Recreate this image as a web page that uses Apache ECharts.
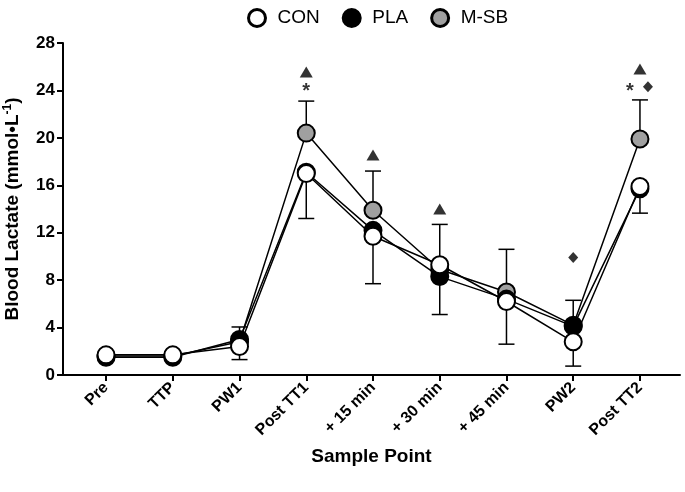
<!DOCTYPE html>
<html><head><meta charset="utf-8">
<script src="https://cdn.jsdelivr.net/npm/echarts@6/dist/echarts.min.js"></script>
<style>html,body{margin:0;padding:0;background:#fff}#c{width:685px;height:492px}</style>
</head><body><div id="c"></div>
<script>
const categories = ['Pre','TTP','PW1','Post TT1','+ 15 min','+ 30 min','+ 45 min','PW2','Post TT2'];
const con = [1.7, 1.7, 2.4, 17.0, 11.7, 9.3, 6.2, 2.8, 15.9];
const pla = [1.5, 1.5, 3.0, 17.1, 12.2, 8.3, 6.4, 4.1, 15.7];
const msb = [1.6, 1.6, 2.8, 20.4, 13.9, 8.9, 7.0, 4.2, 19.9];
const conSDdown = [0.3, 0.3, 1.1, 3.8, 4.0, 4.2, 3.6, 2.05, 2.25];
const msbSDup = [0.3, 0.3, 1.25, 2.7, 3.3, 3.8, 3.6, 2.1, 3.3];
const triangles = [[3, 25.55], [4, 18.55], [5, 14.0], [8, 25.8]];
const asterisks = [[3, 24.3, 0], [8, 24.3, -10]];
const diamonds = [[7, 9.9, 0], [8, 24.3, 8]];
const yTicks = [0, 4, 8, 12, 16, 20, 24, 28];

const font = 'Liberation Sans, Arial, sans-serif';
const chart = echarts.init(document.getElementById('c'));

function errSeries(name, means, sds, dir) {
  return {
    type: 'custom', name: name + ' SD', z: 1, silent: true,
    data: means.map((m, i) => [i, m, sds[i]]),
    renderItem: function (params, api) {
      const x = api.value(0), m = api.value(1), s = api.value(2);
      const p0 = api.coord([x, m]);
      const p1 = api.coord([x, m + dir * s]);
      const hw = 8;
      const st = { stroke: '#000', lineWidth: 1.5 };
      return { type: 'group', children: [
        { type: 'line', shape: { x1: p0[0], y1: p0[1], x2: p1[0], y2: p1[1] }, style: st },
        { type: 'line', shape: { x1: p1[0] - hw, y1: p1[1], x2: p1[0] + hw, y2: p1[1] }, style: st }
      ]};
    }
  };
}
function lineSeries(name, data, fill, z) {
  return {
    type: 'line', name: name, z: z,
    data: data.map((v, i) => [i, v]),
    symbol: 'circle', symbolSize: 17,
    lineStyle: { color: '#000', width: 1.5 },
    itemStyle: { color: fill, borderColor: '#000', borderWidth: 2 },
    emphasis: { disabled: true }
  };
}

chart.setOption({
  animation: false,
  legend: {
    top: 3, left: 242, itemGap: 22, itemWidth: 17, itemHeight: 17,
    icon: 'circle',
    textStyle: { fontFamily: font, fontSize: 19, color: '#000', padding: [0, 0, 0, 7] },
    data: [
      { name: 'CON', itemStyle: { color: '#fff', borderColor: '#000', borderWidth: 3 } },
      { name: 'PLA', itemStyle: { color: '#000', borderColor: '#000', borderWidth: 3 } },
      { name: 'M-SB', itemStyle: { color: '#a0a0a0', borderColor: '#000', borderWidth: 3 } }
    ]
  },
  grid: { left: 63, right: 5, top: 43, bottom: 117, containLabel: false, outerBoundsMode: 'none' },
  xAxis: {
    type: 'value', min: -0.645, max: 8.6,
    name: 'Sample Point', nameLocation: 'middle', nameGap: 72,
    nameTextStyle: { fontFamily: font, fontSize: 19, fontWeight: 'bold', color: '#000' },
    splitLine: { show: false },
    axisLine: { show: true, onZero: false, lineStyle: { color: '#000', width: 2 } },
    axisTick: { show: true, length: 6, lineStyle: { color: '#000', width: 2 }, customValues: categories.map((c, i) => i) },
    axisLabel: {
      customValues: categories.map((c, i) => i), rotate: 45, margin: 10,
      fontFamily: font, fontSize: 16, fontWeight: 'bold', color: '#000',
      formatter: v => categories[Math.round(v)]
    }
  },
  yAxis: {
    type: 'value', min: 0, max: 28, interval: 4,
    name: '{a|Blood Lactate (mmol•L}{s|-1}{a|)}', nameLocation: 'middle', nameGap: 40,
    nameTextStyle: { rich: {
      a: { fontFamily: font, fontSize: 19, fontWeight: 'bold', color: '#000' },
      s: { fontFamily: font, fontSize: 12, fontWeight: 'bold', color: '#000', verticalAlign: 'top', padding: [0, 0, 9, 0] }
    }},
    splitLine: { show: false },
    axisLine: { show: true, onZero: false, lineStyle: { color: '#000', width: 2 } },
    axisTick: { show: true, length: 6, lineStyle: { color: '#000', width: 2 } },
    axisLabel: { margin: 8, fontFamily: font, fontSize: 17, fontWeight: 'bold', color: '#000',
      formatter: v => yTicks.indexOf(v) >= 0 ? String(v) : '' }
  },
  series: [
    errSeries('M-SB', msb, msbSDup, 1),
    errSeries('CON', con, conSDdown, -1),
    lineSeries('M-SB', msb, '#a0a0a0', 3),
    lineSeries('PLA', pla, '#000', 4),
    lineSeries('CON', con, '#fff', 5),
    { type: 'scatter', name: 'tri', z: 6, silent: true, symbol: 'triangle', symbolSize: [13, 11],
      itemStyle: { color: '#000' }, data: triangles },
    { type: 'scatter', name: 'dia', z: 6, silent: true, symbol: 'diamond', symbolSize: [10, 11],
      itemStyle: { color: '#000' },
      data: diamonds.map(d => ({ value: [d[0], d[1]], symbolOffset: [d[2], 0] })) },
    { type: 'scatter', name: 'ast', z: 6, silent: true, symbol: 'circle', symbolSize: 1,
      itemStyle: { color: 'rgba(0,0,0,0)' },
      data: asterisks.map(d => ({ value: [d[0], d[1]],
        label: { show: true, position: 'inside', offset: [d[2], 5], formatter: '*',
          fontFamily: font, fontSize: 20, fontWeight: 'bold', color: '#000' } })) }
  ]
});
</script></body></html>
